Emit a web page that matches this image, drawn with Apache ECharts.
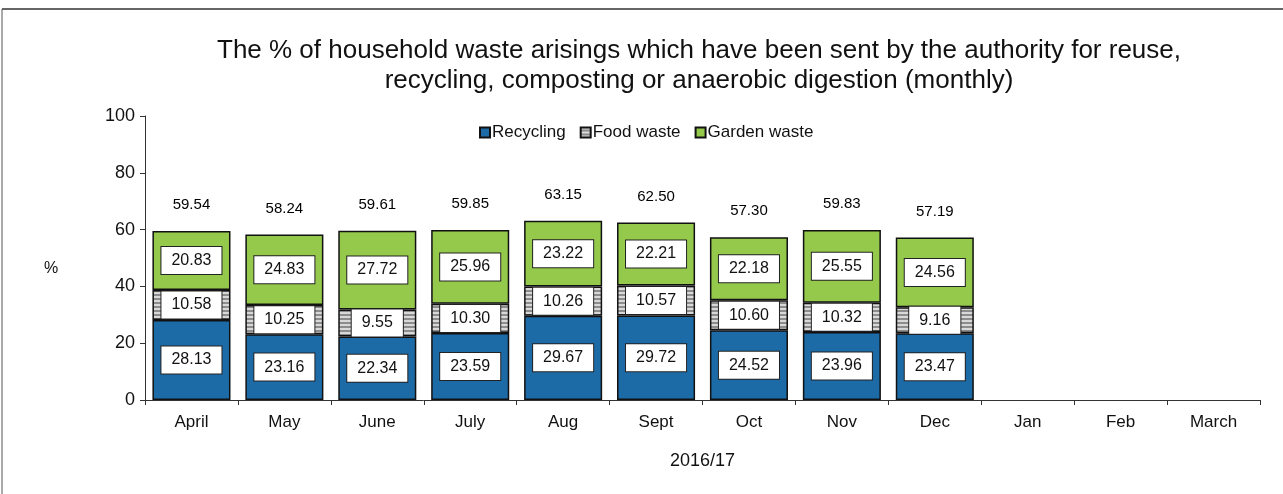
<!DOCTYPE html>
<html>
<head>
<meta charset="utf-8">
<script src="https://cdn.jsdelivr.net/npm/echarts@6/dist/echarts.min.js"></script>
<style>
html,body{margin:0;padding:0;background:#fff;}
#main{width:1283px;height:494px;}
</style>
</head>
<body>
<div id="main"></div>
<script>
var months=["April","May","June","July","Aug","Sept","Oct","Nov","Dec","Jan","Feb","March"];
var recycling=[28.13,23.16,22.34,23.59,29.67,29.72,24.52,23.96,23.47];
var foodWaste=[10.58,10.25,9.55,10.30,10.26,10.57,10.60,10.32,9.16];
var gardenWaste=[20.83,24.83,27.72,25.96,23.22,22.21,22.18,25.55,24.56];
var totals=[59.54,58.24,59.61,59.85,63.15,62.50,57.30,59.83,57.19];

// striped grey fill for food waste
var cv=document.createElement("canvas");
cv.width=4;cv.height=4;
var cx=cv.getContext("2d");
cx.fillStyle="#8c8c8c";cx.fillRect(0,0,4,4);
cx.fillStyle="#d8d8d8";cx.fillRect(0,0,4,2);

var boxLabel={
    show:true,position:"inside",color:"#111",fontSize:16,fontFamily:"Liberation Sans",
    backgroundColor:"#fff",borderColor:"#222",borderWidth:1,padding:[6,10,5,10],
    formatter:function(p){return p.value.toFixed(2);}
};

var myChart=echarts.init(document.getElementById("main"));
var option={
    animation:false,
    textStyle:{fontFamily:"Liberation Sans"},
    title:{
        text:"The % of household waste arisings which have been sent by the authority for reuse,\nrecycling, composting or anaerobic digestion (monthly)",
        left:694,top:31,textAlign:"center",
        textStyle:{fontSize:26,fontWeight:"normal",color:"#111",lineHeight:30,fontFamily:"Liberation Sans"}
    },
    legend:{
        data:["Recycling","Food waste","Garden waste"],
        left:474,top:119,itemWidth:10,itemHeight:10,itemGap:14,
        textStyle:{fontSize:17,color:"#111",padding:[0,0,0,-3]},
        icon:"rect"
    },
    grid:{left:145,right:23,top:116,bottom:94},
    xAxis:{
        type:"category",data:months,
        name:"2016/17",nameLocation:"middle",nameGap:52,
        nameTextStyle:{fontSize:18,color:"#111"},
        axisLine:{lineStyle:{color:"#333",width:1}},
        axisTick:{show:true,alignWithLabel:false,length:5,lineStyle:{color:"#333"}},
        axisLabel:{fontSize:17,color:"#111",margin:14}
    },
    yAxis:{
        type:"value",min:0,max:100,interval:20,
        axisLine:{show:true,lineStyle:{color:"#333",width:1}},
        axisTick:{show:true,length:5,lineStyle:{color:"#333"}},
        splitLine:{show:false},
        axisLabel:{fontSize:18,color:"#111",margin:10}
    },
    series:[
        {name:"Recycling",type:"bar",stack:"w",barCategoryGap:"16%",data:recycling,
         itemStyle:{color:"#1d6ba6",borderColor:"#111",borderWidth:1.5},label:boxLabel},
        {name:"Food waste",type:"bar",stack:"w",data:foodWaste,
         itemStyle:{color:{image:cv,repeat:"repeat"},borderColor:"#111",borderWidth:1.5},label:boxLabel},
        {name:"Garden waste",type:"bar",stack:"w",data:gardenWaste,
         itemStyle:{color:"#95c94c",borderColor:"#111",borderWidth:1.5},label:boxLabel},
        {name:"Total",type:"scatter",data:totals,symbolSize:1,
         itemStyle:{color:"rgba(0,0,0,0)"},
         label:{show:true,position:"top",distance:18,fontSize:15,color:"#000",opacity:1,
                formatter:function(p){return p.value.toFixed(2);}}}
    ],
    graphic:[
        {type:"text",left:44,top:261,style:{text:"%",fontSize:16,fill:"#111",fontFamily:"Liberation Sans"}},
        {type:"line",shape:{x1:2,y1:9,x2:1283,y2:9},style:{stroke:"#333",lineWidth:1.5}},
        {type:"line",shape:{x1:2,y1:9,x2:2,y2:494},style:{stroke:"#555",lineWidth:1}}
    ]
};
myChart.setOption(option);
</script>
</body>
</html>
